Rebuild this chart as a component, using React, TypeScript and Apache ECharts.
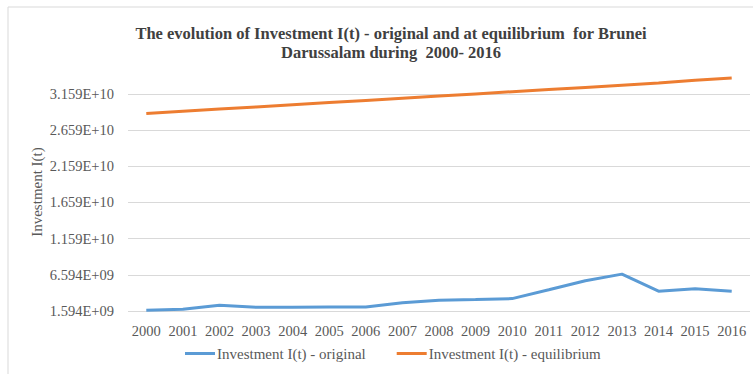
import React, { useEffect, useRef } from "react";
import * as echarts from "echarts";

const years = ["2000","2001","2002","2003","2004","2005","2006","2007","2008","2009","2010","2011","2012","2013","2014","2015","2016"];
const original = [1.69e9, 1.82e9, 2.4e9, 2.1e9, 2.1e9, 2.15e9, 2.15e9, 2.72e9, 3.08e9, 3.17e9, 3.31e9, 4.53e9, 5.78e9, 6.69e9, 4.34e9, 4.66e9, 4.34e9];
const equilibrium = [2.89e10, 2.92e10, 2.95e10, 2.98e10, 3.01e10, 3.04e10, 3.07e10, 3.10e10, 3.13e10, 3.16e10, 3.19e10, 3.22e10, 3.25e10, 3.28e10, 3.31e10, 3.35e10, 3.38e10];
const seriesNames = ["Investment I(t) - original", "Investment I(t) - equilibrium"];
const yAxisTitle = "Investment I(t)";
const yMin = 1.594e9;
const yInterval = 5e9;
const yMax = 3.659e10;

function fmt(v: number): string {
  const s = v.toExponential(3);
  const [m, e] = s.split("e");
  const sign = e[0] === "-" ? "-" : "+";
  const digits = e.replace(/[+-]/, "").padStart(2, "0");
  return `${m}E${sign}${digits}`;
}

export default function App() {
  const ref = useRef<HTMLDivElement>(null);
  useEffect(() => {
    const chart = echarts.init(ref.current!, null, { renderer: "svg" });
    const serif = "'Liberation Serif', 'Times New Roman', serif";
    chart.setOption({
      animation: false,
      backgroundColor: "#ffffff",
      textStyle: { fontFamily: serif },
      graphic: [
        {
          type: "rect",
          shape: { x: 8, y: 7, width: 800, height: 400 },
          style: { fill: "none", stroke: "#d9d9d9", lineWidth: 1 },
          silent: true,
        },
        {
          type: "text",
          x: 37,
          y: 192,
          rotation: Math.PI / 2,
          silent: true,
          style: {
            text: yAxisTitle,
            fontFamily: serif,
            fontSize: 15,
            fill: "#595959",
            align: "center",
            verticalAlign: "middle",
          },
        },
      ],
      title: {
        text: "The evolution of Investment I(t) - original and at equilibrium  for Brunei\nDarussalam during  2000- 2016",
        left: 386,
        textAlign: "center",
        top: 19,
        textStyle: {
          fontFamily: serif,
          fontWeight: "bold",
          fontSize: 16.5,
          color: "#404040",
          lineHeight: 19,
        },
      },
      legend: {
        bottom: 8,
        left: 180,
        itemWidth: 30,
        itemHeight: 3,
        itemGap: 31,
        icon: "rect",
        textStyle: { fontFamily: serif, fontSize: 15, color: "#595959", padding: [0, 0, 0, -3] },
        data: seriesNames,
      },
      grid: { left: 128, right: 3, top: 57.8, bottom: 63, containLabel: false },
      xAxis: {
        type: "category",
        data: years,
        boundaryGap: true,
        axisLine: { show: false },
        axisTick: { show: false },
        axisLabel: { fontFamily: serif, fontSize: 14.5, color: "#595959", margin: 12, interval: 0 },
      },
      yAxis: {
        type: "value",
        min: yMin,
        max: yMax,
        interval: yInterval,
        axisLine: { show: false },
        axisTick: { show: false },
        axisLabel: {
          fontFamily: serif,
          fontSize: 14.5,
          color: "#595959",
          margin: 14,
          showMaxLabel: false,
          formatter: (v: number) => (v >= yMax - 1 ? "" : fmt(v)),
        },
        splitLine: {
          show: true,
          lineStyle: {
            color: ["#d9d9d9", "#d9d9d9", "#d9d9d9", "#d9d9d9", "#d9d9d9", "#d9d9d9", "#d9d9d9", "rgba(0,0,0,0)"],
            width: 1,
          },
        },
      },
      series: [
        {
          name: seriesNames[0],
          type: "line",
          data: original,
          showSymbol: false,
          symbol: "none",
          lineStyle: { color: "#5B9BD5", width: 3 },
          itemStyle: { color: "#5B9BD5" },
        },
        {
          name: seriesNames[1],
          type: "line",
          data: equilibrium,
          showSymbol: false,
          symbol: "none",
          lineStyle: { color: "#ED7D31", width: 3 },
          itemStyle: { color: "#ED7D31" },
        },
      ],
    });
    return () => chart.dispose();
  }, []);
  return (
    <div
      ref={ref}
      style={{ position: "absolute", left: 0, top: 0, width: 753, height: 374 }}
    />
  );
}
